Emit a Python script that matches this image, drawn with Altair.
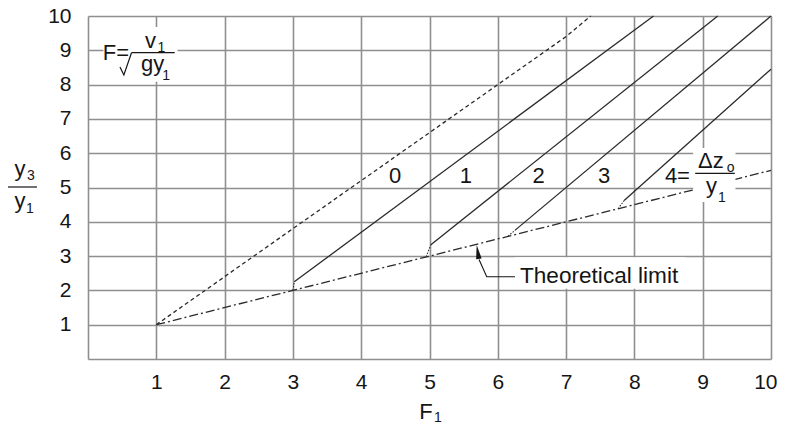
import altair as alt
import pandas as pd

# ---------------- data ----------------
# hydraulic jump (no drop, dz/y1 = 0) – dashed
F_JUMP = [1.0, 2.0, 3.0, 4.0, 5.0, 6.0, 7.0, 7.36]
Y_JUMP = [1.0, 2.4, 3.8, 5.2, 6.6, 8.0, 9.4, 10.0]

# theoretical limit – dash-dot
F_LIMIT = [1.0, 3.0, 5.0, 10.0]
Y_LIMIT = [1.0, 2.0, 3.0, 5.5]

# drop curves dz/y1 = 1..4 – solid
DROP = ["1", "1", "2", "2", "3", "3", "4", "4"]
F_DROP = [3.02, 8.28, 5.02, 9.22, 6.25, 10.0, 7.85, 10.0]
Y_DROP = [2.25, 10.0, 3.33, 10.0, 3.75, 10.0, 4.62, 8.45]

# short dotted transitions from the limit to each drop curve
F_START = [3.0, 3.02, 4.95, 5.02, 6.15, 6.25, 7.76, 7.85]
Y_START = [2.0, 2.25, 2.98, 3.33, 3.58, 3.75, 4.38, 4.62]

X_TICKS = list(range(1, 11))
Y_TICKS = list(range(1, 11))

CURVE_LABELS = ["0", "1", "2", "3"]
LABEL_F = [4.495, 5.534, 6.596, 7.555]
LABEL_Y = [5.13, 5.13, 5.13, 5.13]

# ---------------- styling ----------------
FONT = "Liberation Sans"
GRID = "#8f8f8f"
INK = "#2a2a2a"
TXT = "#151515"
W, H = 683, 343
FS = 22
FS_SUB = 14

xs = alt.Scale(domain=[0, 10], nice=False, zero=False)
ys = alt.Scale(domain=[0, 10], nice=False, zero=False)

x_axis = alt.Axis(values=X_TICKS, title=None, grid=True, gridColor=GRID, gridWidth=1.6,
                  domainColor=GRID, domainWidth=1.6, ticks=False, labelFont=FONT,
                  labelFontSize=21, labelColor=TXT, labelPadding=12,
                  labelFlush=True, labelFlushOffset=6)
y_axis = alt.Axis(values=Y_TICKS, title=None, grid=True, gridColor=GRID, gridWidth=1.6,
                  domainColor=GRID, domainWidth=1.6, ticks=False, labelFont=FONT,
                  labelFontSize=21, labelColor=TXT, labelPadding=17, labelFlush=False)


def X(field):
    return alt.X(f"{field}:Q", scale=xs, axis=x_axis)


def Y(field):
    return alt.Y(f"{field}:Q", scale=ys, axis=y_axis)


jump_df = pd.DataFrame({"F": F_JUMP, "Y": Y_JUMP})
limit_df = pd.DataFrame({"F": F_LIMIT, "Y": Y_LIMIT})
drop_df = pd.DataFrame({"F": F_DROP, "Y": Y_DROP, "g": DROP})
start_df = pd.DataFrame({"F": F_START, "Y": Y_START, "g": DROP})
lab_df = pd.DataFrame({"F": LABEL_F, "Y": LABEL_Y, "t": CURVE_LABELS})

jump = alt.Chart(jump_df).mark_line(color=INK, strokeWidth=1.3, strokeDash=[4, 3]).encode(
    x=X("F"), y=Y("Y"))
limit = alt.Chart(limit_df).mark_line(color=INK, strokeWidth=1.3, strokeDash=[9, 3, 2, 3]).encode(
    x=X("F"), y=Y("Y"))
drops = alt.Chart(drop_df).mark_line(color=INK, strokeWidth=1.3).encode(
    x=X("F"), y=Y("Y"), detail="g:N")
starts = alt.Chart(start_df).mark_line(color=INK, strokeWidth=1.1, strokeDash=[1.5, 1.5]).encode(
    x=X("F"), y=Y("Y"), detail="g:N")

# white boxes behind annotations
box_df = pd.DataFrame({
    "F": [0.225, 6.25, 8.86],
    "F2": [1.31, 8.75, 9.48],
    "Y": [8.08, 2.05, 4.58],
    "Y2": [9.68, 2.97, 6.15],
})
boxes = alt.Chart(box_df).mark_rect(color="white").encode(
    x=X("F"), x2="F2:Q", y=Y("Y"), y2="Y2:Q")

labels = alt.Chart(lab_df).mark_text(font=FONT, fontSize=FS, color=TXT, baseline="alphabetic").encode(
    x=X("F"), y=Y("Y"), text="t:N")

# annotation texts in data coordinates
ann_df = pd.DataFrame({
    "t": ["F=", "v", "1", "gy", "1", "4=", "Δz", "o", "y", "1"],
    "F": [0.41, 0.915, 1.075, 0.945, 1.145, 8.63, 9.12, 9.41, 9.13, 9.28],
    "Y": [8.72, 9.07, 8.95, 8.40, 8.13, 5.12, 5.57, 5.45, 4.84, 4.58],
    "s": [FS, FS, FS_SUB, FS, FS_SUB, FS, FS, FS_SUB, FS, FS_SUB],
})
ann = alt.Chart(ann_df).mark_text(font=FONT, color=TXT, baseline="alphabetic").encode(
    x=X("F"), y=Y("Y"), text="t:N", size=alt.Size("s:Q", scale=None, legend=None))

theo = alt.Chart(pd.DataFrame({"F": [6.325], "Y": [2.216], "t": ["Theoretical limit"]})).mark_text(
    font=FONT, fontSize=22.6, color=TXT, align="left", baseline="alphabetic").encode(
    x=X("F"), y=Y("Y"), text="t:N")

# fraction bars
bar_df = pd.DataFrame({"F": [0.637, 8.89], "F2": [1.27, 9.47], "Y": [8.93, 5.41]})
bars = alt.Chart(bar_df).mark_rule(color=TXT, strokeWidth=1.2).encode(
    x=X("F"), x2="F2:Q", y=Y("Y"))

# radical check mark
rad_df = pd.DataFrame({"F": [0.468, 0.525, 0.637], "Y": [8.51, 8.28, 8.93], "o": [0, 1, 2]})
rad = alt.Chart(rad_df).mark_line(color=TXT, strokeWidth=1.2).encode(
    x=X("F"), y=Y("Y"), order="o:Q")

# leader line + arrow head for "Theoretical limit"
lead_df = pd.DataFrame({"F": [6.252, 5.838, 5.725], "Y": [2.40, 2.40, 2.90], "o": [0, 1, 2]})
lead = alt.Chart(lead_df).mark_line(color=TXT, strokeWidth=1.1).encode(
    x=X("F"), y=Y("Y"), order="o:Q")
head = alt.Chart(pd.DataFrame({"F": [5.707], "Y": [3.12]})).mark_point(
    shape="M0,-1L-0.4,1L0.4,1Z", size=196, filled=True, color=TXT, opacity=1, angle=351).encode(
    x=X("F"), y=Y("Y"))

# axis titles with subscripts (pixel positions relative to the plot area)
one = pd.DataFrame({"a": [0]})


def txt(s, px, py, size, align="center"):
    return alt.Chart(one).mark_text(text=s, font=FONT, fontSize=size, color=TXT,
                                    align=align, baseline="alphabetic").encode(
        x=alt.value(px), y=alt.value(py))


titles = [
    txt("F", 338, 403, FS),
    txt("1", 350, 406, FS_SUB),
    txt("y", -68, 160, FS),
    txt("3", -57, 164, FS_SUB),
    txt("y", -68, 192, FS),
    txt("1", -58, 197, FS_SUB),
]
ybar = alt.Chart(one).mark_rule(color=TXT, strokeWidth=1.2).encode(
    x=alt.value(-80), x2=alt.value(-51), y=alt.value(171))

chart = alt.layer(
    jump, limit, drops, starts, boxes, labels, ann, theo, bars, rad, lead, head, ybar, *titles
).properties(
    width=W, height=H,
    autosize=alt.AutoSizeParams(type="none"),
    padding={"left": 80, "top": 8, "right": 6, "bottom": 63},
    background="white",
).configure_view(stroke=None)

chart.save("out.html", embed_options={"renderer": "svg", "actions": False})
